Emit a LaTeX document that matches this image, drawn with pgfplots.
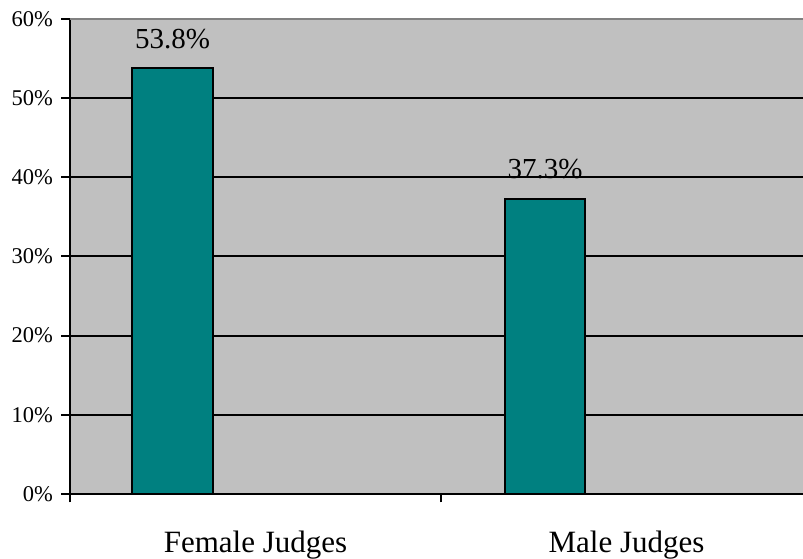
\documentclass[border=0pt]{standalone}
\usepackage{pgfplots}
\pgfplotsset{compat=1.18}
\usepackage{fontspec}
\setmainfont{Liberation Serif}
\definecolor{bggray}{HTML}{C0C0C0}
\definecolor{barteal}{HTML}{008080}
\definecolor{topgray}{HTML}{808080}
\begin{document}
\begin{tikzpicture}[x=1pt,y=1pt]
\path[use as bounding box] (0,0) rectangle (803,559);
\begin{axis}[
  at={(70pt,65pt)}, anchor=south west,
  scale only axis, width=733pt, height=475pt,
  xmin=0, xmax=1.9757, ymin=0, ymax=60,
  axis x line*=bottom, axis y line*=left,
  axis line style={-, line width=2pt, black},
  axis background/.style={fill=bggray},
  /pgf/number format/assume math mode=true,
  ytick={0,10,...,60},
  yticklabel={\pgfmathprintnumber{\tick}\%},
  yticklabel style={font=\fontsize{22.5}{24}\selectfont, black, xshift=-5pt},
  ymajorgrids, major grid style={black, line width=2pt},
  tick style={black, line width=2pt},
  major tick length=8.5pt, tick align=outside,
  xtick={0,1}, xticklabels={Female Judges, Male Judges},
  xticklabel style={font=\fontsize{31}{34}\selectfont, black, xshift=185.5pt, yshift=-25pt},
  ybar, bar width=0.218,
  nodes near coords={\pgfmathprintnumber[fixed,precision=1,fixed zerofill,assume math mode=true]{\pgfplotspointmeta}\%},
  every node near coord/.append style={font=\fontsize{29}{32}\selectfont, black, yshift=15pt},
]
\addplot[fill=barteal, draw=black, line width=2pt] coordinates {(0.2763,53.8) (1.2803,37.3)};
\draw[topgray, line width=2pt] (rel axis cs:0,1) -- (rel axis cs:1,1);
\end{axis}
\end{tikzpicture}
\end{document}
